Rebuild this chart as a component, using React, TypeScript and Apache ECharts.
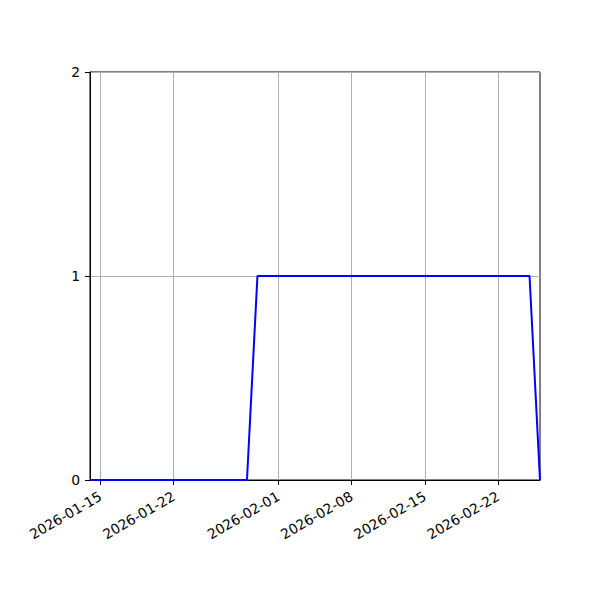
import React, { useEffect, useRef } from 'react'
import * as echarts from 'echarts'

// change points of the series (daily data, flat between them)
const dates: string[] = ['2026-01-14', '2026-01-29', '2026-01-30', '2026-02-25', '2026-02-26']
const values: number[] = [0, 0, 1, 1, 0]

const xTicks: string[] = ['2026-01-15', '2026-01-22', '2026-02-01', '2026-02-08', '2026-02-15', '2026-02-22']
const yTicks: number[] = [0, 1, 2]

const xMin = '2026-01-14'
const xMax = '2026-02-26'

const font = 'DejaVu Sans'

const toTime = (d: string) => new Date(d + 'T00:00:00').getTime()

const App = () => {
  const chartRef: any = useRef(null)

  useEffect(() => {
    const chart = echarts.init(chartRef.current, null, { renderer: 'svg' })

    const tickTimes = xTicks.map(toTime)

    const options: any = {
      animation: false,
      backgroundColor: '#ffffff',
      grid: {
        left: 90,
        top: 72,
        width: 450,
        height: 408,
        show: true,
        borderColor: '#000000',
        borderWidth: 1,
        backgroundColor: 'transparent',
      },
      // value axis holding timestamps, so matplotlib-like irregular date ticks can be placed
      xAxis: {
        type: 'value',
        min: toTime(xMin),
        max: toTime(xMax),
        axisLine: { show: true, onZero: false, lineStyle: { color: '#000000', width: 1 } },
        axisTick: {
          show: true,
          inside: false,
          length: 5,
          lineStyle: { color: '#000000', width: 1 },
          customValues: tickTimes,
        },
        axisLabel: {
          customValues: tickTimes,
          rotate: 30,
          margin: 15,
          color: '#000000',
          fontFamily: font,
          fontSize: 13.9,
          formatter: (v: number) => {
            const d = new Date(v)
            const mm = String(d.getMonth() + 1).padStart(2, '0')
            const dd = String(d.getDate()).padStart(2, '0')
            return d.getFullYear() + '-' + mm + '-' + dd
          },
        },
        splitLine: { show: true, lineStyle: { color: '#b0b0b0', width: 1 } },
      },
      yAxis: {
        type: 'value',
        min: yTicks[0],
        max: yTicks[yTicks.length - 1],
        interval: 1,
        axisLine: { show: true, lineStyle: { color: '#000000', width: 1 } },
        axisTick: { show: true, inside: false, length: 5, lineStyle: { color: '#000000', width: 1 } },
        axisLabel: { color: '#000000', fontFamily: font, fontSize: 13.9, margin: 10 },
        splitLine: { show: true, lineStyle: { color: '#b0b0b0', width: 1 } },
      },
      series: [
        {
          type: 'line',
          data: dates.map((d, i) => [toTime(d), values[i]]),
          showSymbol: false,
          symbol: 'none',
          lineStyle: { color: '#0000ff', width: 2 },
          itemStyle: { color: '#0000ff' },
          clip: false,
        },
      ],
    }

    chart.setOption(options)

    return () => {
      chart.dispose()
    }
  }, [])

  return (
    <div
      ref={chartRef}
      style={{ position: 'absolute', left: 0, top: 0, width: 600, height: 600 }}
    ></div>
  )
}

export default App
